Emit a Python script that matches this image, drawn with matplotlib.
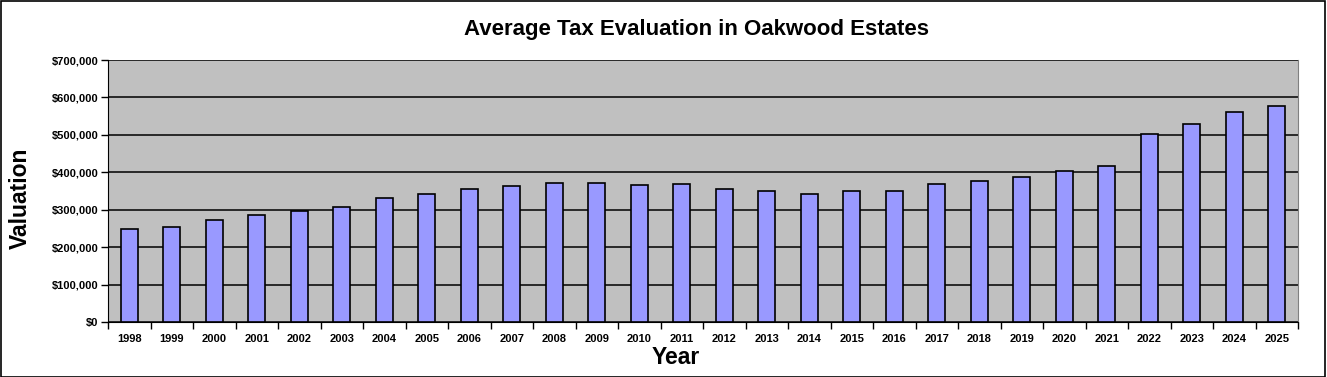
import matplotlib.pyplot as plt
from matplotlib.ticker import FuncFormatter

years = [str(y) for y in range(1998, 2026)]
valuation = [248000, 253000, 272000, 285000, 296000, 307000, 331000, 342000,
             355000, 363000, 371000, 371000, 365000, 368000, 355000, 349000,
             341000, 349000, 349000, 368000, 376000, 387000, 403000, 416000,
             501000, 528000, 560000, 576000]

plt.rcParams['font.family'] = ['Liberation Sans', 'DejaVu Sans']

fig = plt.figure(figsize=(13.27, 3.77), dpi=100)
ax = fig.add_axes([108 / 1327, 1 - 322 / 377, 1190 / 1327, 262 / 377])
ax.set_facecolor('#C0C0C0')

x = list(range(len(years)))
ax.bar(x, valuation, width=0.4, color='#9999FF', edgecolor='black', linewidth=1.2, zorder=3)

ax.set_xlim(-0.5, len(years) - 0.5)
ax.set_ylim(0, 700000)
ax.set_yticks(range(0, 700001, 100000))
ax.yaxis.set_major_formatter(FuncFormatter(lambda v, p: '${:,.0f}'.format(v)))
ax.grid(axis='y', color='black', linewidth=1.1, zorder=1)

# category labels centred, ticks on the boundaries
ax.set_xticks(x)
ax.set_xticklabels(years, fontsize=8, fontweight='bold')
ax.tick_params(axis='x', length=0, pad=9)
ax.set_xticks([i - 0.5 for i in range(len(years) + 1)], minor=True)
ax.tick_params(axis='x', which='minor', length=5, width=1, direction='out', color='black')
ax.tick_params(axis='y', length=5, width=1, direction='out', labelsize=8, pad=2)
for lbl in ax.get_yticklabels():
    lbl.set_fontweight('bold')

ax.spines['left'].set_color('black')
ax.spines['bottom'].set_color('black')
ax.spines['top'].set_visible(False)
ax.spines['right'].set_color('#808080')

fig.text(697 / 1327, 1 - 30 / 377, 'Average Tax Evaluation in Oakwood Estates',
         ha='center', va='center', fontsize=16, fontweight='bold')
fig.text(20 / 1327, 1 - 198 / 377, 'Valuation', rotation=90,
         ha='center', va='center', fontsize=16.5, fontweight='bold')
fig.text(676 / 1327, 1 - 357 / 377, 'Year',
         ha='center', va='center', fontsize=16.5, fontweight='bold')

fig.patches.append(plt.Rectangle((0.0005, 0.001), 0.998, 0.997, transform=fig.transFigure,
                                 fill=False, edgecolor='black', linewidth=1.2))

fig.savefig('out.png', dpi=100)
